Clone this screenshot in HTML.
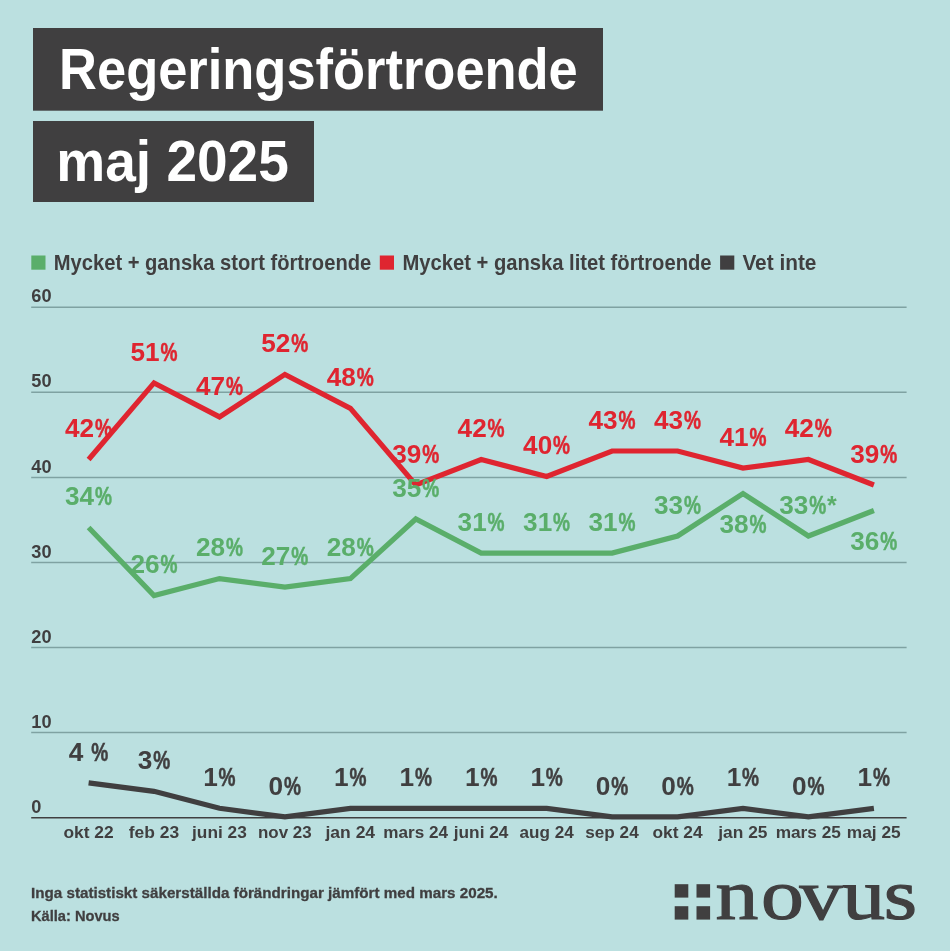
<!DOCTYPE html>
<html lang="sv"><head><meta charset="utf-8"><title>Regeringsförtroende maj 2025</title>
<style>html,body{margin:0;padding:0;background:#bbe0e0}svg{display:block}text{font-family:"Liberation Sans", sans-serif;font-weight:700}</style></head><body>
<svg width="950" height="951" viewBox="0 0 950 951">
<rect width="950" height="951" fill="#bbe0e0"/>
<rect x="33" y="28" width="570" height="82.7" fill="#403f40"/>
<rect x="33" y="121" width="281" height="81" fill="#403f40"/>
<text x="59.1" y="89.1" font-size="57.5" fill="#fff" textLength="518.7" lengthAdjust="spacingAndGlyphs">Regeringsförtroende</text>
<text x="56.3" y="181.2" font-size="57.5" fill="#fff" textLength="232.5" lengthAdjust="spacingAndGlyphs">maj 2025</text>
<rect x="31.3" y="255.5" width="14.2" height="14.2" fill="#5aae6a"/>
<text x="53.8" y="269.8" font-size="21.2" fill="#403f40" textLength="317.4" lengthAdjust="spacingAndGlyphs">Mycket + ganska stort förtroende</text>
<rect x="379.8" y="255.5" width="14.2" height="14.2" fill="#df2530"/>
<text x="402.4" y="269.8" font-size="21.2" fill="#403f40" textLength="309.2" lengthAdjust="spacingAndGlyphs">Mycket + ganska litet förtroende</text>
<rect x="720.1" y="255.5" width="14.2" height="14.2" fill="#403f40"/>
<text x="742.4" y="269.8" font-size="21.2" fill="#403f40" textLength="74.0" lengthAdjust="spacingAndGlyphs">Vet inte</text>
<line x1="31.2" x2="906.6" y1="732.6" y2="732.6" stroke="#7fa2a2" stroke-width="1.5"/>
<line x1="31.2" x2="906.6" y1="647.5" y2="647.5" stroke="#7fa2a2" stroke-width="1.5"/>
<line x1="31.2" x2="906.6" y1="562.5" y2="562.5" stroke="#7fa2a2" stroke-width="1.5"/>
<line x1="31.2" x2="906.6" y1="477.4" y2="477.4" stroke="#7fa2a2" stroke-width="1.5"/>
<line x1="31.2" x2="906.6" y1="392.3" y2="392.3" stroke="#7fa2a2" stroke-width="1.5"/>
<line x1="31.2" x2="906.6" y1="307.2" y2="307.2" stroke="#7fa2a2" stroke-width="1.5"/>
<line x1="31.2" x2="906.6" y1="817.7" y2="817.7" stroke="#403f40" stroke-width="1.6"/>
<text x="31.3" y="812.8" font-size="18.2" fill="#403f40">0</text>
<text x="31.3" y="727.7" font-size="18.2" fill="#403f40">10</text>
<text x="31.3" y="642.6" font-size="18.2" fill="#403f40">20</text>
<text x="31.3" y="557.6" font-size="18.2" fill="#403f40">30</text>
<text x="31.3" y="472.5" font-size="18.2" fill="#403f40">40</text>
<text x="31.3" y="387.4" font-size="18.2" fill="#403f40">50</text>
<text x="31.3" y="302.3" font-size="18.2" fill="#403f40">60</text>
<polyline points="88.6,527.5 154.0,595.6 219.5,578.6 284.9,587.1 350.4,578.6 415.8,519.0 481.2,553.1 546.7,553.1 612.1,553.1 677.6,536.0 743.0,493.5 808.4,536.0 873.9,510.5" fill="none" stroke="#5aae6a" stroke-width="5.2" stroke-linejoin="miter"/>
<polyline points="88.6,459.5 154.0,382.9 219.5,416.9 284.9,374.4 350.4,408.4 415.8,485.0 481.2,459.5 546.7,476.5 612.1,451.0 677.6,451.0 743.0,468.0 808.4,459.5 873.9,485.0" fill="none" stroke="#df2530" stroke-width="5.2" stroke-linejoin="miter"/>
<polyline points="88.6,782.8 154.0,791.3 219.5,808.3 284.9,816.8 350.4,808.3 415.8,808.3 481.2,808.3 546.7,808.3 612.1,816.8 677.6,816.8 743.0,808.3 808.4,816.8 873.9,808.3" fill="none" stroke="#403f40" stroke-width="5.2" stroke-linejoin="miter"/>
<text y="437.2" font-size="25.0" fill="#df2530"><tspan x="65.0" textLength="29.1" lengthAdjust="spacingAndGlyphs">42</tspan><tspan x="95.0" textLength="17.0" lengthAdjust="spacingAndGlyphs" stroke="#df2530" stroke-width="0.5">%</tspan></text>
<text y="360.6" font-size="25.0" fill="#df2530"><tspan x="130.4" textLength="29.1" lengthAdjust="spacingAndGlyphs">51</tspan><tspan x="160.4" textLength="17.0" lengthAdjust="spacingAndGlyphs" stroke="#df2530" stroke-width="0.5">%</tspan></text>
<text y="394.6" font-size="25.0" fill="#df2530"><tspan x="195.9" textLength="29.1" lengthAdjust="spacingAndGlyphs">47</tspan><tspan x="225.9" textLength="17.0" lengthAdjust="spacingAndGlyphs" stroke="#df2530" stroke-width="0.5">%</tspan></text>
<text y="352.1" font-size="25.0" fill="#df2530"><tspan x="261.3" textLength="29.1" lengthAdjust="spacingAndGlyphs">52</tspan><tspan x="291.3" textLength="17.0" lengthAdjust="spacingAndGlyphs" stroke="#df2530" stroke-width="0.5">%</tspan></text>
<text y="386.1" font-size="25.0" fill="#df2530"><tspan x="326.8" textLength="29.1" lengthAdjust="spacingAndGlyphs">48</tspan><tspan x="356.8" textLength="17.0" lengthAdjust="spacingAndGlyphs" stroke="#df2530" stroke-width="0.5">%</tspan></text>
<text y="462.7" font-size="25.0" fill="#df2530"><tspan x="392.2" textLength="29.1" lengthAdjust="spacingAndGlyphs">39</tspan><tspan x="422.2" textLength="17.0" lengthAdjust="spacingAndGlyphs" stroke="#df2530" stroke-width="0.5">%</tspan></text>
<text y="437.2" font-size="25.0" fill="#df2530"><tspan x="457.6" textLength="29.1" lengthAdjust="spacingAndGlyphs">42</tspan><tspan x="487.6" textLength="17.0" lengthAdjust="spacingAndGlyphs" stroke="#df2530" stroke-width="0.5">%</tspan></text>
<text y="454.2" font-size="25.0" fill="#df2530"><tspan x="523.1" textLength="29.1" lengthAdjust="spacingAndGlyphs">40</tspan><tspan x="553.1" textLength="17.0" lengthAdjust="spacingAndGlyphs" stroke="#df2530" stroke-width="0.5">%</tspan></text>
<text y="428.7" font-size="25.0" fill="#df2530"><tspan x="588.5" textLength="29.1" lengthAdjust="spacingAndGlyphs">43</tspan><tspan x="618.5" textLength="17.0" lengthAdjust="spacingAndGlyphs" stroke="#df2530" stroke-width="0.5">%</tspan></text>
<text y="428.7" font-size="25.0" fill="#df2530"><tspan x="654.0" textLength="29.1" lengthAdjust="spacingAndGlyphs">43</tspan><tspan x="684.0" textLength="17.0" lengthAdjust="spacingAndGlyphs" stroke="#df2530" stroke-width="0.5">%</tspan></text>
<text y="445.7" font-size="25.0" fill="#df2530"><tspan x="719.4" textLength="29.1" lengthAdjust="spacingAndGlyphs">41</tspan><tspan x="749.4" textLength="17.0" lengthAdjust="spacingAndGlyphs" stroke="#df2530" stroke-width="0.5">%</tspan></text>
<text y="437.2" font-size="25.0" fill="#df2530"><tspan x="784.8" textLength="29.1" lengthAdjust="spacingAndGlyphs">42</tspan><tspan x="814.8" textLength="17.0" lengthAdjust="spacingAndGlyphs" stroke="#df2530" stroke-width="0.5">%</tspan></text>
<text y="462.7" font-size="25.0" fill="#df2530"><tspan x="850.3" textLength="29.1" lengthAdjust="spacingAndGlyphs">39</tspan><tspan x="880.3" textLength="17.0" lengthAdjust="spacingAndGlyphs" stroke="#df2530" stroke-width="0.5">%</tspan></text>
<text y="505.2" font-size="25.0" fill="#5aae6a"><tspan x="65.0" textLength="29.1" lengthAdjust="spacingAndGlyphs">34</tspan><tspan x="95.0" textLength="17.0" lengthAdjust="spacingAndGlyphs" stroke="#5aae6a" stroke-width="0.5">%</tspan></text>
<text y="573.3" font-size="25.0" fill="#5aae6a"><tspan x="130.4" textLength="29.1" lengthAdjust="spacingAndGlyphs">26</tspan><tspan x="160.4" textLength="17.0" lengthAdjust="spacingAndGlyphs" stroke="#5aae6a" stroke-width="0.5">%</tspan></text>
<text y="556.3" font-size="25.0" fill="#5aae6a"><tspan x="195.9" textLength="29.1" lengthAdjust="spacingAndGlyphs">28</tspan><tspan x="225.9" textLength="17.0" lengthAdjust="spacingAndGlyphs" stroke="#5aae6a" stroke-width="0.5">%</tspan></text>
<text y="564.8" font-size="25.0" fill="#5aae6a"><tspan x="261.3" textLength="29.1" lengthAdjust="spacingAndGlyphs">27</tspan><tspan x="291.3" textLength="17.0" lengthAdjust="spacingAndGlyphs" stroke="#5aae6a" stroke-width="0.5">%</tspan></text>
<text y="556.3" font-size="25.0" fill="#5aae6a"><tspan x="326.8" textLength="29.1" lengthAdjust="spacingAndGlyphs">28</tspan><tspan x="356.8" textLength="17.0" lengthAdjust="spacingAndGlyphs" stroke="#5aae6a" stroke-width="0.5">%</tspan></text>
<text y="496.7" font-size="25.0" fill="#5aae6a"><tspan x="392.2" textLength="29.1" lengthAdjust="spacingAndGlyphs">35</tspan><tspan x="422.2" textLength="17.0" lengthAdjust="spacingAndGlyphs" stroke="#5aae6a" stroke-width="0.5">%</tspan></text>
<text y="530.8" font-size="25.0" fill="#5aae6a"><tspan x="457.6" textLength="29.1" lengthAdjust="spacingAndGlyphs">31</tspan><tspan x="487.6" textLength="17.0" lengthAdjust="spacingAndGlyphs" stroke="#5aae6a" stroke-width="0.5">%</tspan></text>
<text y="530.8" font-size="25.0" fill="#5aae6a"><tspan x="523.1" textLength="29.1" lengthAdjust="spacingAndGlyphs">31</tspan><tspan x="553.1" textLength="17.0" lengthAdjust="spacingAndGlyphs" stroke="#5aae6a" stroke-width="0.5">%</tspan></text>
<text y="530.8" font-size="25.0" fill="#5aae6a"><tspan x="588.5" textLength="29.1" lengthAdjust="spacingAndGlyphs">31</tspan><tspan x="618.5" textLength="17.0" lengthAdjust="spacingAndGlyphs" stroke="#5aae6a" stroke-width="0.5">%</tspan></text>
<text y="513.7" font-size="25.0" fill="#5aae6a"><tspan x="654.0" textLength="29.1" lengthAdjust="spacingAndGlyphs">33</tspan><tspan x="684.0" textLength="17.0" lengthAdjust="spacingAndGlyphs" stroke="#5aae6a" stroke-width="0.5">%</tspan></text>
<text y="532.8" font-size="25.0" fill="#5aae6a"><tspan x="719.4" textLength="29.1" lengthAdjust="spacingAndGlyphs">38</tspan><tspan x="749.4" textLength="17.0" lengthAdjust="spacingAndGlyphs" stroke="#5aae6a" stroke-width="0.5">%</tspan></text>
<text y="513.7" font-size="25.0" fill="#5aae6a"><tspan x="779.3" textLength="29.1" lengthAdjust="spacingAndGlyphs">33</tspan><tspan x="809.3" textLength="17.0" lengthAdjust="spacingAndGlyphs" stroke="#5aae6a" stroke-width="0.5">%</tspan><tspan x="827.1">*</tspan></text>
<text y="549.8" font-size="25.0" fill="#5aae6a"><tspan x="850.3" textLength="29.1" lengthAdjust="spacingAndGlyphs">36</tspan><tspan x="880.3" textLength="17.0" lengthAdjust="spacingAndGlyphs" stroke="#5aae6a" stroke-width="0.5">%</tspan></text>
<text y="760.5" font-size="25.0" fill="#403f40"><tspan x="68.8" textLength="14.6" lengthAdjust="spacingAndGlyphs">4</tspan><tspan> </tspan><tspan x="91.2" textLength="17.0" lengthAdjust="spacingAndGlyphs" stroke="#403f40" stroke-width="0.5">%</tspan></text>
<text y="769.0" font-size="25.0" fill="#403f40"><tspan x="137.7" textLength="14.6" lengthAdjust="spacingAndGlyphs">3</tspan><tspan x="153.2" textLength="17.0" lengthAdjust="spacingAndGlyphs" stroke="#403f40" stroke-width="0.5">%</tspan></text>
<text y="786.0" font-size="25.0" fill="#403f40"><tspan x="203.2" textLength="14.6" lengthAdjust="spacingAndGlyphs">1</tspan><tspan x="218.6" textLength="17.0" lengthAdjust="spacingAndGlyphs" stroke="#403f40" stroke-width="0.5">%</tspan></text>
<text y="794.5" font-size="25.0" fill="#403f40"><tspan x="268.6" textLength="14.6" lengthAdjust="spacingAndGlyphs">0</tspan><tspan x="284.0" textLength="17.0" lengthAdjust="spacingAndGlyphs" stroke="#403f40" stroke-width="0.5">%</tspan></text>
<text y="786.0" font-size="25.0" fill="#403f40"><tspan x="334.0" textLength="14.6" lengthAdjust="spacingAndGlyphs">1</tspan><tspan x="349.5" textLength="17.0" lengthAdjust="spacingAndGlyphs" stroke="#403f40" stroke-width="0.5">%</tspan></text>
<text y="786.0" font-size="25.0" fill="#403f40"><tspan x="399.5" textLength="14.6" lengthAdjust="spacingAndGlyphs">1</tspan><tspan x="414.9" textLength="17.0" lengthAdjust="spacingAndGlyphs" stroke="#403f40" stroke-width="0.5">%</tspan></text>
<text y="786.0" font-size="25.0" fill="#403f40"><tspan x="464.9" textLength="14.6" lengthAdjust="spacingAndGlyphs">1</tspan><tspan x="480.4" textLength="17.0" lengthAdjust="spacingAndGlyphs" stroke="#403f40" stroke-width="0.5">%</tspan></text>
<text y="786.0" font-size="25.0" fill="#403f40"><tspan x="530.4" textLength="14.6" lengthAdjust="spacingAndGlyphs">1</tspan><tspan x="545.8" textLength="17.0" lengthAdjust="spacingAndGlyphs" stroke="#403f40" stroke-width="0.5">%</tspan></text>
<text y="794.5" font-size="25.0" fill="#403f40"><tspan x="595.8" textLength="14.6" lengthAdjust="spacingAndGlyphs">0</tspan><tspan x="611.2" textLength="17.0" lengthAdjust="spacingAndGlyphs" stroke="#403f40" stroke-width="0.5">%</tspan></text>
<text y="794.5" font-size="25.0" fill="#403f40"><tspan x="661.2" textLength="14.6" lengthAdjust="spacingAndGlyphs">0</tspan><tspan x="676.7" textLength="17.0" lengthAdjust="spacingAndGlyphs" stroke="#403f40" stroke-width="0.5">%</tspan></text>
<text y="786.0" font-size="25.0" fill="#403f40"><tspan x="726.7" textLength="14.6" lengthAdjust="spacingAndGlyphs">1</tspan><tspan x="742.1" textLength="17.0" lengthAdjust="spacingAndGlyphs" stroke="#403f40" stroke-width="0.5">%</tspan></text>
<text y="794.5" font-size="25.0" fill="#403f40"><tspan x="792.1" textLength="14.6" lengthAdjust="spacingAndGlyphs">0</tspan><tspan x="807.6" textLength="17.0" lengthAdjust="spacingAndGlyphs" stroke="#403f40" stroke-width="0.5">%</tspan></text>
<text y="786.0" font-size="25.0" fill="#403f40"><tspan x="857.6" textLength="14.6" lengthAdjust="spacingAndGlyphs">1</tspan><tspan x="873.0" textLength="17.0" lengthAdjust="spacingAndGlyphs" stroke="#403f40" stroke-width="0.5">%</tspan></text>
<text x="88.5" y="838.1" font-size="17.3" fill="#403f40" text-anchor="middle" textLength="50.2" lengthAdjust="spacingAndGlyphs">okt 22</text>
<text x="153.9" y="838.1" font-size="17.3" fill="#403f40" text-anchor="middle" textLength="50.4" lengthAdjust="spacingAndGlyphs">feb 23</text>
<text x="219.4" y="838.1" font-size="17.3" fill="#403f40" text-anchor="middle" textLength="54.7" lengthAdjust="spacingAndGlyphs">juni 23</text>
<text x="284.8" y="838.1" font-size="17.3" fill="#403f40" text-anchor="middle" textLength="53.7" lengthAdjust="spacingAndGlyphs">nov 23</text>
<text x="350.3" y="838.1" font-size="17.3" fill="#403f40" text-anchor="middle" textLength="49.6" lengthAdjust="spacingAndGlyphs">jan 24</text>
<text x="415.7" y="838.1" font-size="17.3" fill="#403f40" text-anchor="middle" textLength="64.7" lengthAdjust="spacingAndGlyphs">mars 24</text>
<text x="481.1" y="838.1" font-size="17.3" fill="#403f40" text-anchor="middle" textLength="54.7" lengthAdjust="spacingAndGlyphs">juni 24</text>
<text x="546.6" y="838.1" font-size="17.3" fill="#403f40" text-anchor="middle" textLength="54.2" lengthAdjust="spacingAndGlyphs">aug 24</text>
<text x="612.0" y="838.1" font-size="17.3" fill="#403f40" text-anchor="middle" textLength="53.4" lengthAdjust="spacingAndGlyphs">sep 24</text>
<text x="677.5" y="838.1" font-size="17.3" fill="#403f40" text-anchor="middle" textLength="50.1" lengthAdjust="spacingAndGlyphs">okt 24</text>
<text x="742.9" y="838.1" font-size="17.3" fill="#403f40" text-anchor="middle" textLength="49.2" lengthAdjust="spacingAndGlyphs">jan 25</text>
<text x="808.3" y="838.1" font-size="17.3" fill="#403f40" text-anchor="middle" textLength="65.3" lengthAdjust="spacingAndGlyphs">mars 25</text>
<text x="873.8" y="838.1" font-size="17.3" fill="#403f40" text-anchor="middle" textLength="53.9" lengthAdjust="spacingAndGlyphs">maj 25</text>
<text x="31.0" y="898.3" font-size="15.2" fill="#403f40" textLength="466.8" lengthAdjust="spacingAndGlyphs" stroke="#403f40" stroke-width="0.3">Inga statistiskt säkerställda förändringar jämfört med mars 2025.</text>
<text x="31.0" y="920.5" font-size="15.2" fill="#403f40" textLength="88.7" lengthAdjust="spacingAndGlyphs" stroke="#403f40" stroke-width="0.3">Källa: Novus</text>
<rect x="674.7" y="884.2" width="13.6" height="13.4" fill="#403f40"/>
<rect x="696.5" y="884.2" width="13.6" height="13.4" fill="#403f40"/>
<rect x="674.7" y="906.2" width="13.6" height="13.4" fill="#403f40"/>
<rect x="696.5" y="906.2" width="13.6" height="13.4" fill="#403f40"/>
<text transform="scale(1.19,1)" x="601.3 639.5 671.8 707.8 742.6" y="918.9" font-size="72" fill="#403f40" stroke="#403f40" stroke-width="1.1" style="font-family:'Liberation Serif',serif;font-weight:400">novus</text>
</svg></body></html>
